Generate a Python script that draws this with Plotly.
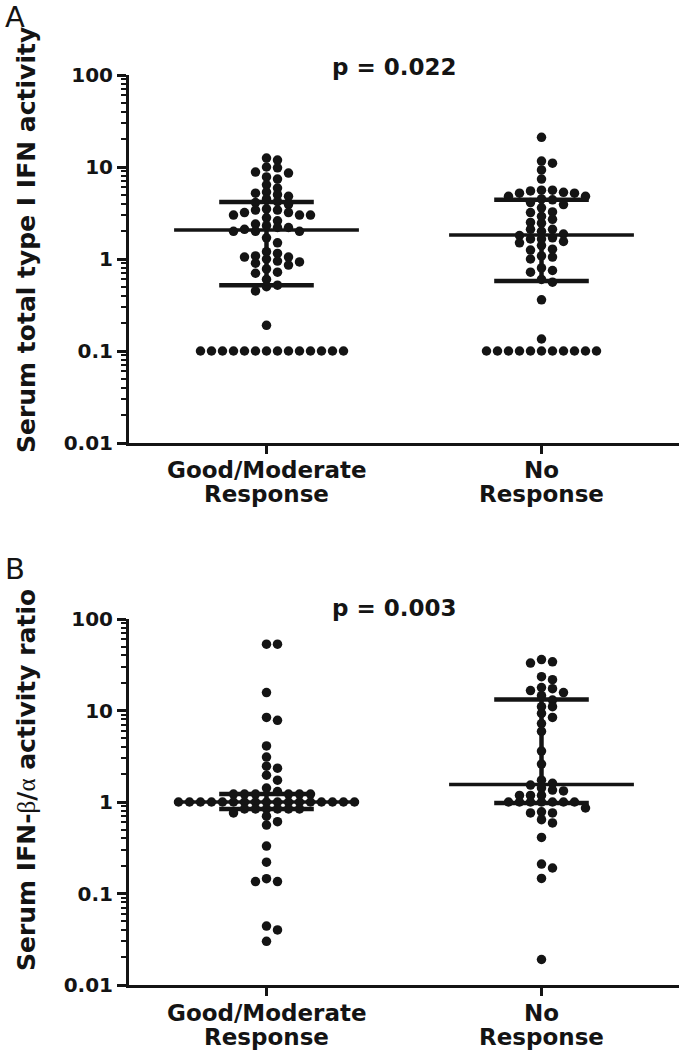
import numpy as np
import plotly.graph_objects as go

# ---------------- data ----------------
categories = ["Good/Moderate<br>Response", "No<br>Response"]
y_tick_vals = [0.01, 0.1, 1, 10, 100]
y_tick_text = ["0.01", "0.1", "1", "10", "100"]

# Panel A: serum total type I IFN activity
ifn_good = [12.5, 11.9, 10, 9.8, 8.8, 8.6, 7.8, 7.4, 6.4, 5.9, 5.35, 5.2, 5.0, 4.8, 4.5,
            4.2, 4.1, 3.9, 3.5, 3.4, 3.4, 3.2, 3.2, 3.0, 3.0, 3.0, 2.8, 2.6,
            2.4, 2.3, 2.2, 2.2, 2.1, 2.0, 2.0, 2.0,
            1.7, 1.5, 1.2, 1.15, 1.08, 1.05, 1.05, 1.0, 0.95, 0.93, 0.9, 0.86, 0.78,
            0.72, 0.7, 0.6, 0.52, 0.5, 0.45, 0.19,
            0.1, 0.1, 0.1, 0.1, 0.1, 0.1, 0.1, 0.1, 0.1, 0.1, 0.1, 0.1, 0.1, 0.1]
ifn_none = [21, 11.6, 11, 9.3, 7.4, 5.6, 5.6, 5.5, 5.3, 5.2, 5.2, 4.8, 4.8, 4.5, 4.4,
            4.1, 3.9, 3.6, 3.25, 3.2, 2.9, 2.7, 2.5, 2.45, 2.1, 2.1, 2.0,
            1.87, 1.8, 1.7, 1.65, 1.65, 1.55, 1.5, 1.4, 1.28, 1.25, 1.08, 1.05, 1.0,
            0.8, 0.75, 0.72, 0.6, 0.56, 0.36, 0.135,
            0.1, 0.1, 0.1, 0.1, 0.1, 0.1, 0.1, 0.1, 0.1, 0.1, 0.1]
ifn_median = [2.07, 1.82]
ifn_q1 = [0.52, 0.575]
ifn_q3 = [4.17, 4.4]

# Panel B: serum IFN-beta/alpha activity ratio
ratio_good = [53, 53, 15.7, 8.4, 7.8, 4.1, 3.1, 2.46, 2.34, 1.96, 1.73, 1.42, 1.3,
              1.22, 1.22, 1.22, 1.22, 1.22, 1.22,
              1.0, 1.0, 1.0, 1.0, 1.0, 1.0, 1.0, 1.0, 1.0, 1.0, 1.0, 1.0, 1.0, 1.0, 1.0, 1.0, 1.0,
              0.84, 0.84, 0.84, 0.84, 0.84, 0.84,
              0.76, 0.70, 0.61, 0.56, 0.33, 0.22, 0.145, 0.135, 0.135, 0.044, 0.04, 0.030]
ratio_none = [36, 34, 33, 23.4, 21.7, 17.8, 17.3, 16.5, 15.7, 14.5, 13, 11, 11, 9.3, 8.4,
              7.2, 5.9, 3.6, 2.6, 1.73, 1.6, 1.53, 1.42, 1.35, 1.32, 1.18, 1.18, 1.18,
              1.0, 1.0, 1.0, 1.0, 1.0, 1.0, 1.0, 0.86, 0.78, 0.76, 0.76, 0.64, 0.59,
              0.41, 0.21, 0.19, 0.146, 0.019]
ratio_median = [1.0, 1.55]
ratio_q1 = [0.84, 0.975]
ratio_q3 = [1.22, 13.2]

p_values = ["p = 0.022", "p = 0.003"]
panel_letters = ["A", "B"]
y_titles = ["Serum total type I IFN activity",
            "Serum IFN-<span style=\"font-family:Liberation Serif;font-weight:normal\">β</span>/"
            "<span style=\"font-family:Liberation Serif;font-weight:normal\">α</span> activity ratio"]

# ---------------- layout geometry (page px, body margin removed) ----------------
W, H = 681, 1050
ML, MR, MT, MB = 129, 2, 75, 65
PW, PH = W - ML - MR, H - MT - MB
PX_PER_UNIT = PW / 2.0
PX_PER_DECADE = 92.0
INK = "#141414"
FONT = "DejaVu Sans, Verdana, sans-serif"


def py(ypage):
    return (H - MB - ypage) / PH


def px(xpage):
    return (xpage - ML) / PW


def swarm(vals, step_px=11.0, diam=10.0, ytol=6.5):
    placed, offs = [], [0.0] * len(vals)
    cands = [0]
    for j in range(1, 40):
        cands += [j, -j]
    for i in np.argsort(-np.asarray(vals), kind="stable"):
        yy = np.log10(vals[i]) * PX_PER_DECADE
        xx = 0.0
        for c in cands:
            xx = c * step_px
            ok = True
            for a, b in placed:
                if abs(yy - b) < ytol and (xx - a) ** 2 + (yy - b) ** 2 < diam ** 2:
                    ok = False
                    break
            if ok:
                break
        placed.append((xx, yy))
        offs[i] = xx / PX_PER_UNIT
    return offs


fig = go.Figure()
panels = [
    ("x", "y", [ifn_good, ifn_none], ifn_median, ifn_q1, ifn_q3),
    ("x2", "y2", [ratio_good, ratio_none], ratio_median, ratio_q1, ratio_q3),
]
for xa, ya, groups, med, q1, q3 in panels:
    for gi, vals in enumerate(groups):
        offs = swarm(vals)
        fig.add_trace(go.Scatter(
            x=[gi + o for o in offs], y=vals, xaxis=xa, yaxis=ya, mode="markers",
            marker=dict(size=9.5, color=INK, line=dict(width=0)),
            showlegend=False, hoverinfo="y"))
    for gi in range(2):
        fig.add_trace(go.Scatter(x=[gi - 0.336, gi + 0.336], y=[med[gi], med[gi]],
                                 xaxis=xa, yaxis=ya, mode="lines",
                                 line=dict(color=INK, width=3.5), showlegend=False,
                                 hoverinfo="skip"))
        for qv in (q1[gi], q3[gi]):
            fig.add_trace(go.Scatter(x=[gi - 0.172, gi + 0.172], y=[qv, qv],
                                     xaxis=xa, yaxis=ya, mode="lines",
                                     line=dict(color=INK, width=4.5), showlegend=False,
                                     hoverinfo="skip"))
        fig.add_trace(go.Scatter(x=[gi, gi], y=[q1[gi], q3[gi]],
                                 xaxis=xa, yaxis=ya, mode="lines",
                                 line=dict(color=INK, width=4.5), showlegend=False,
                                 hoverinfo="skip"))

minor_vals = [m * 10.0 ** e for e in range(-2, 2) for m in range(2, 10)]
xcommon = dict(range=[-0.5, 1.5], tickvals=[0, 1], showticklabels=False,
               ticks="outside", ticklen=8, tickwidth=2.5, tickcolor=INK,
               showline=True, linewidth=3, linecolor=INK, showgrid=False, zeroline=False)
ycommon = dict(type="log", range=[-2, 2], tickvals=y_tick_vals, ticktext=y_tick_text,
               ticks="outside", ticklen=9, tickwidth=2.5, tickcolor=INK,
               minor=dict(tickvals=minor_vals, ticks="outside", ticklen=5, tickwidth=2,
                          tickcolor=INK),
               showline=True, linewidth=3, linecolor=INK, showgrid=False, zeroline=False,
               tickfont=dict(family=FONT, size=20, color=INK, weight="bold"))

domA = [py(443), py(75)]
domB = [py(985), py(619)]
fig.update_layout(
    width=W, height=H, margin=dict(l=ML, r=MR, t=MT, b=MB),
    paper_bgcolor="white", plot_bgcolor="white",
    xaxis=dict(domain=[0, 1], anchor="y", **xcommon),
    yaxis=dict(domain=domA, anchor="x", **ycommon),
    xaxis2=dict(domain=[0, 1], anchor="y2", **xcommon),
    yaxis2=dict(domain=domB, anchor="x2", **ycommon),
)

ann = []
for k, (pv, letter, yt) in enumerate(zip(p_values, panel_letters, y_titles)):
    shift = 0 if k == 0 else 543
    ann.append(dict(text=pv, x=px(394), y=py(67 + 541 * k), xref="paper", yref="paper",
                    showarrow=False, xanchor="center", yanchor="middle",
                    font=dict(family=FONT, size=23, color=INK, weight="bold")))
    ann.append(dict(text=letter, x=px(15), y=py([17, 569][k]), xref="paper", yref="paper",
                    showarrow=False, xanchor="center", yanchor="middle",
                    font=dict(family=FONT, size=29, color=INK)))
    ann.append(dict(text=yt, x=px(26), y=py([240, 780][k]), xref="paper", yref="paper",
                    showarrow=False, xanchor="center", yanchor="middle", textangle=-90,
                    font=dict(family=FONT, size=25, color=INK, weight="bold")))
    xr = "x" if k == 0 else "x2"
    for gi, cat in enumerate(categories):
        for li, line in enumerate(cat.split("<br>")):
            ann.append(dict(text=line, x=gi, y=py(470 + 23.5 * li + shift), xref=xr,
                            yref="paper", showarrow=False, xanchor="center",
                            yanchor="middle",
                            font=dict(family=FONT, size=23, color=INK, weight="bold")))
fig.update_layout(annotations=ann)

fig.write_html("out.html", config={"displayModeBar": False},
               post_script="document.body.style.margin='0px';")
